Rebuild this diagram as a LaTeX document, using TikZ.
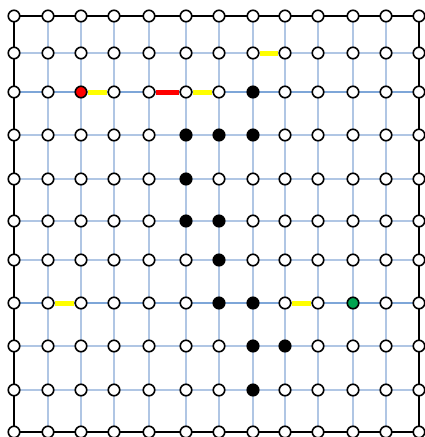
\documentclass[tikz,border=0pt]{standalone}
\usetikzlibrary{backgrounds}
\definecolor{lightgrid}{HTML}{B0C6E4}
\definecolor{midgrid}{HTML}{7EA6D8}
\definecolor{mark}{HTML}{FFFF00}
\definecolor{redmark}{HTML}{FF0000}
\definecolor{greenfill}{HTML}{00A550}
\begin{document}
\begin{tikzpicture}[x=1pt,y=-1pt,
  vtx/.style={circle,draw=black,line width=1.6pt,fill=white,minimum size=11.5pt,inner sep=0pt},
  gridline/.style={draw=lightgrid,line width=1.2pt},
  midline/.style={draw=midgrid,line width=1.2pt},
  border/.style={draw=black,line width=2pt},
  hl/.style={draw=mark,line width=5pt},
  hlred/.style={draw=redmark,line width=5pt},
  k-7-2/.style={fill=black}, k-5-3/.style={fill=black}, k-6-3/.style={fill=black},
  k-7-3/.style={fill=black}, k-5-4/.style={fill=black}, k-5-5/.style={fill=black},
  k-6-5/.style={fill=black}, k-6-6/.style={fill=black}, k-6-7/.style={fill=black},
  k-7-7/.style={fill=black}, k-7-8/.style={fill=black}, k-8-8/.style={fill=black},
  k-7-9/.style={fill=black}, k-2-2/.style={fill=redmark}, k-10-7/.style={fill=greenfill}
]
\useasboundingbox (0,0) rectangle (425,437);
\foreach \y [count=\j from 0] in {16,53,92,135,179,221,260,303,346,390,432} {
  \foreach \x [count=\i from 0] in {14,48,81,114,149,186,219,253,285,318,353,386,419} {
    \node[vtx,k-\i-\j/.try] (n-\i-\j) at (\x,\y) {};
  }
}
\begin{scope}[on background layer]
  \foreach \j in {1,3,4,5,6,8,9} {
    \draw[gridline] (n-0-\j.center) -- (n-12-\j.center);
  }
  \foreach \j in {2,7} {
    \draw[midline] (n-0-\j.center) -- (n-12-\j.center);
  }
  \foreach \i in {1,...,11} {
    \draw[gridline] (n-\i-0.center) -- (n-\i-10.center);
  }
  \draw[border] (n-0-0.center) -- (n-12-0.center) -- (n-12-10.center) -- (n-0-10.center) -- cycle;
  \draw[hl] (n-7-1) -- (n-8-1);
  \draw[hl] (n-2-2) -- (n-3-2);
  \draw[hlred] (n-4-2) -- (n-5-2);
  \draw[hl] (n-5-2) -- (n-6-2);
  \draw[hl] (n-1-7) -- (n-2-7);
  \draw[hl] (n-8-7) -- (n-9-7);
\end{scope}
\end{tikzpicture}
\end{document}
